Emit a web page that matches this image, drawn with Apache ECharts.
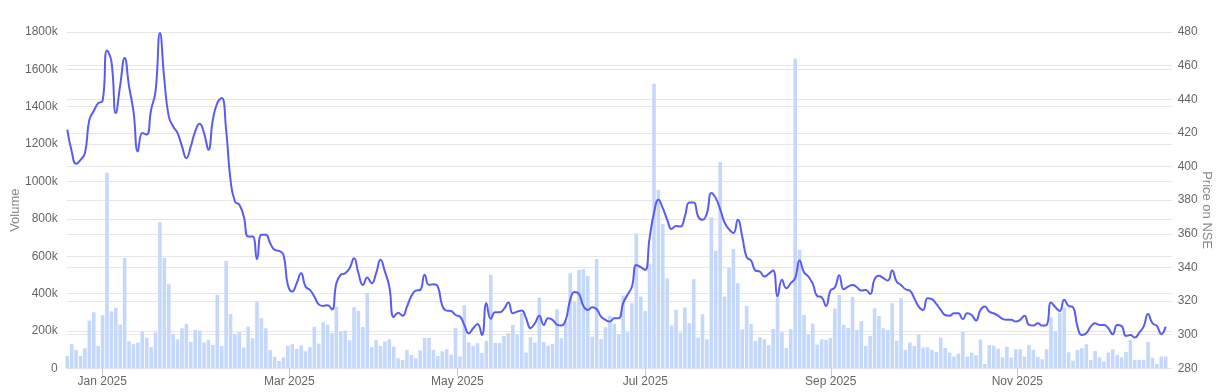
<!DOCTYPE html>
<html>
<head>
<meta charset="utf-8">
<script src="https://cdn.jsdelivr.net/npm/echarts@6/dist/echarts.min.js"></script>
<style>
html,body{margin:0;padding:0;background:#ffffff;}
#chart{width:1222px;height:392px;}
</style>
</head>
<body>
<div id="chart"></div>
<script>
// Daily traded volume, in thousands of shares (one value per trading day)
const volumeThousands = [
  66,129,98,66,107,255,300,120,284,1047,
  305,323,234,591,145,129,138,198,163,113,
  191,782,591,450,184,155,214,238,141,205,
  202,138,152,125,393,120,575,291,182,193,
  111,223,161,355,268,214,98,62,39,59,
  120,129,104,123,91,113,223,132,246,234,
  188,330,198,202,150,327,307,221,404,113,
  152,120,143,155,116,54,45,98,71,54,
  96,163,163,98,66,91,102,73,216,63,
  338,139,120,134,82,146,500,136,136,173,
  188,232,182,295,84,166,138,379,141,121,
  130,316,161,250,509,357,527,530,494,169,
  585,156,220,280,238,184,389,193,348,723,
  384,307,557,1523,955,772,482,229,313,191,
  325,241,477,164,289,155,809,629,1104,384,
  539,639,455,209,334,236,146,166,155,123,
  211,375,193,109,209,1657,634,286,182,239,
  127,155,152,163,320,393,232,216,382,205,
  252,120,173,321,280,214,205,348,148,375,
  98,139,120,182,111,113,98,88,164,109,
  84,63,79,195,63,84,70,154,23,125,
  121,105,59,116,57,102,102,63,125,98,
  61,48,102,273,196,298,325,86,41,98,
  107,129,45,93,59,36,84,102,71,59,
  88,152,45,45,45,141,57,23,63,63
];

// Closing price on NSE (one value per trading day)
const priceNSE = [
  421.9,409.0,401.6,404.0,408.0,427.8,433.0,437.7,439.0,469.0,
  462.5,431.8,448.6,464.5,447.7,432.8,409.0,420.0,419.0,433.8,
  444.7,479.4,451.6,429.8,423.8,419.9,412.0,405.0,412.0,420.9,
  425.4,419.9,410.0,427.8,437.7,440.7,421.9,392.0,379.2,377.2,
  370.3,358.4,358.4,344.9,359.4,359.4,354.4,350.4,349.8,347.5,
  329.6,325.6,330.6,336.5,328.6,326.6,322.7,318.0,317.1,317.5,
  315.0,330.6,335.6,336.5,339.5,345.5,336.5,329.6,334.0,330.6,
  336.5,344.5,337.5,328.6,310.4,313.1,311.2,316.7,323.0,326.2,
  326.6,335.6,329.6,330.0,328.6,317.3,314.3,314.1,311.7,310.8,
  305.8,300.8,303.8,306.4,299.8,318.7,309.4,313.3,313.3,315.3,
  319.1,312.7,313.7,314.3,309.8,303.8,306.8,311.2,305.8,309.8,
  308.8,306.0,305.4,308.8,320.7,325.4,324.2,317.1,314.7,316.3,
  315.1,310.7,308.8,307.8,309.8,309.8,318.7,323.7,328.6,341.5,
  340.1,338.5,357.4,372.3,380.2,375.2,368.3,362.9,364.7,364.3,
  370.3,378.6,378.6,370.3,368.3,372.3,384.2,381.2,374.6,366.7,
  362.7,360.4,368.3,358.4,346.1,344.1,338.1,337.5,334.6,336.2,
  338.1,322.7,332.6,327.6,330.6,333.6,344.1,337.1,334.6,330.2,
  323.0,322.3,317.1,326.2,328.0,335.4,327.0,328.6,329.6,328.2,
  326.2,326.6,324.2,333.0,335.0,333.6,332.2,338.1,331.6,329.6,
  327.0,326.2,321.7,316.7,314.7,321.7,321.1,318.3,314.7,311.7,
  311.3,312.7,312.7,309.2,312.7,311.7,308.4,314.7,316.7,313.7,
  312.7,311.3,309.4,308.8,308.8,307.8,308.8,311.2,305.8,305.4,
  306.8,305.4,305.8,319.1,316.3,314.1,320.7,317.1,316.3,304.8,
  299.8,300.8,304.8,306.8,305.8,305.8,303.8,300.2,305.8,305.2,
  299.2,299.8,298.3,301.2,304.8,312.3,306.8,305.2,300.4,304.8
];

// Month tick labels and their position on the trading-day axis
const tickLabels = ['Jan 2025','Mar 2025','May 2025','Jul 2025','Sep 2025','Nov 2025'];
const tickPositions = [7.93, 50.33, 88.42, 131.04, 173.07, 215.37];

const FONT = '"Liberation Sans", Arial, Helvetica, sans-serif';

const volumeData = volumeThousands.map((v, i) => [i, v]);
const priceData = priceNSE.map((p, i) => [i, p]);

const chart = echarts.init(document.getElementById('chart'), null, {renderer: 'canvas'});
chart.setOption({
  animation: false,
  backgroundColor: '#ffffff',
  grid: {left: 66.7, right: 50.3, top: 32, bottom: 23.7, containLabel: false, outerBoundsMode: 'none'},
  xAxis: {
    type: 'value',
    min: -0.136,
    max: 250.36,
    splitLine: {show: false},
    axisLine: {show: false},
    axisTick: {show: true, customValues: tickPositions, length: 8, lineStyle: {color: '#cccccc', width: 1}},
    axisLabel: {
      customValues: tickPositions,
      margin: 7,
      color: '#666666',
      fontSize: 12,
      fontFamily: FONT,
      formatter: function (value) {
        let best = 0, d = Infinity;
        tickPositions.forEach((t, k) => { const dd = Math.abs(t - value); if (dd < d) { d = dd; best = k; } });
        return tickLabels[best];
      }
    }
  },
  yAxis: [
    {
      type: 'value',
      position: 'left',
      min: 0,
      max: 1800,
      interval: 200,
      name: 'Volume',
      nameLocation: 'middle',
      nameRotate: 90,
      nameGap: 45,
      nameMoveOverlap: false,
      nameTextStyle: {color: '#888888', fontSize: 13, fontFamily: FONT, padding: [0, 20, 0, 0]},
      axisLine: {show: false},
      axisTick: {show: false},
      axisLabel: {
        color: '#666666', fontSize: 12, fontFamily: FONT, margin: 9,
        formatter: v => (v === 0 ? '0' : v + 'k')
      },
      splitLine: {show: true, lineStyle: {color: '#e6e6e6', width: 1}}
    },
    {
      type: 'value',
      position: 'right',
      min: 280,
      max: 480,
      interval: 20,
      name: 'Price on NSE',
      nameLocation: 'middle',
      nameRotate: -90,
      nameGap: 28,
      nameMoveOverlap: false,
      nameTextStyle: {color: '#888888', fontSize: 13, fontFamily: FONT, padding: [0, 0, 0, 20]},
      axisLine: {show: false},
      axisTick: {show: false},
      axisLabel: {color: '#666666', fontSize: 12, fontFamily: FONT, margin: 6},
      splitLine: {show: true, lineStyle: {color: '#e6e6e6', width: 1}}
    }
  ],
  series: [
    {
      name: 'Volume',
      type: 'bar',
      yAxisIndex: 0,
      data: volumeData,
      barWidth: 3.6,
      itemStyle: {color: '#c4d8fc'},
      emphasis: {disabled: true}
    },
    {
      name: 'Price on NSE',
      type: 'line',
      yAxisIndex: 1,
      data: priceData,
      smooth: 0.5,
      showSymbol: false,
      symbol: 'none',
      lineStyle: {color: '#585cf2', width: 2},
      emphasis: {disabled: true}
    }
  ]
});
</script>
</body>
</html>
